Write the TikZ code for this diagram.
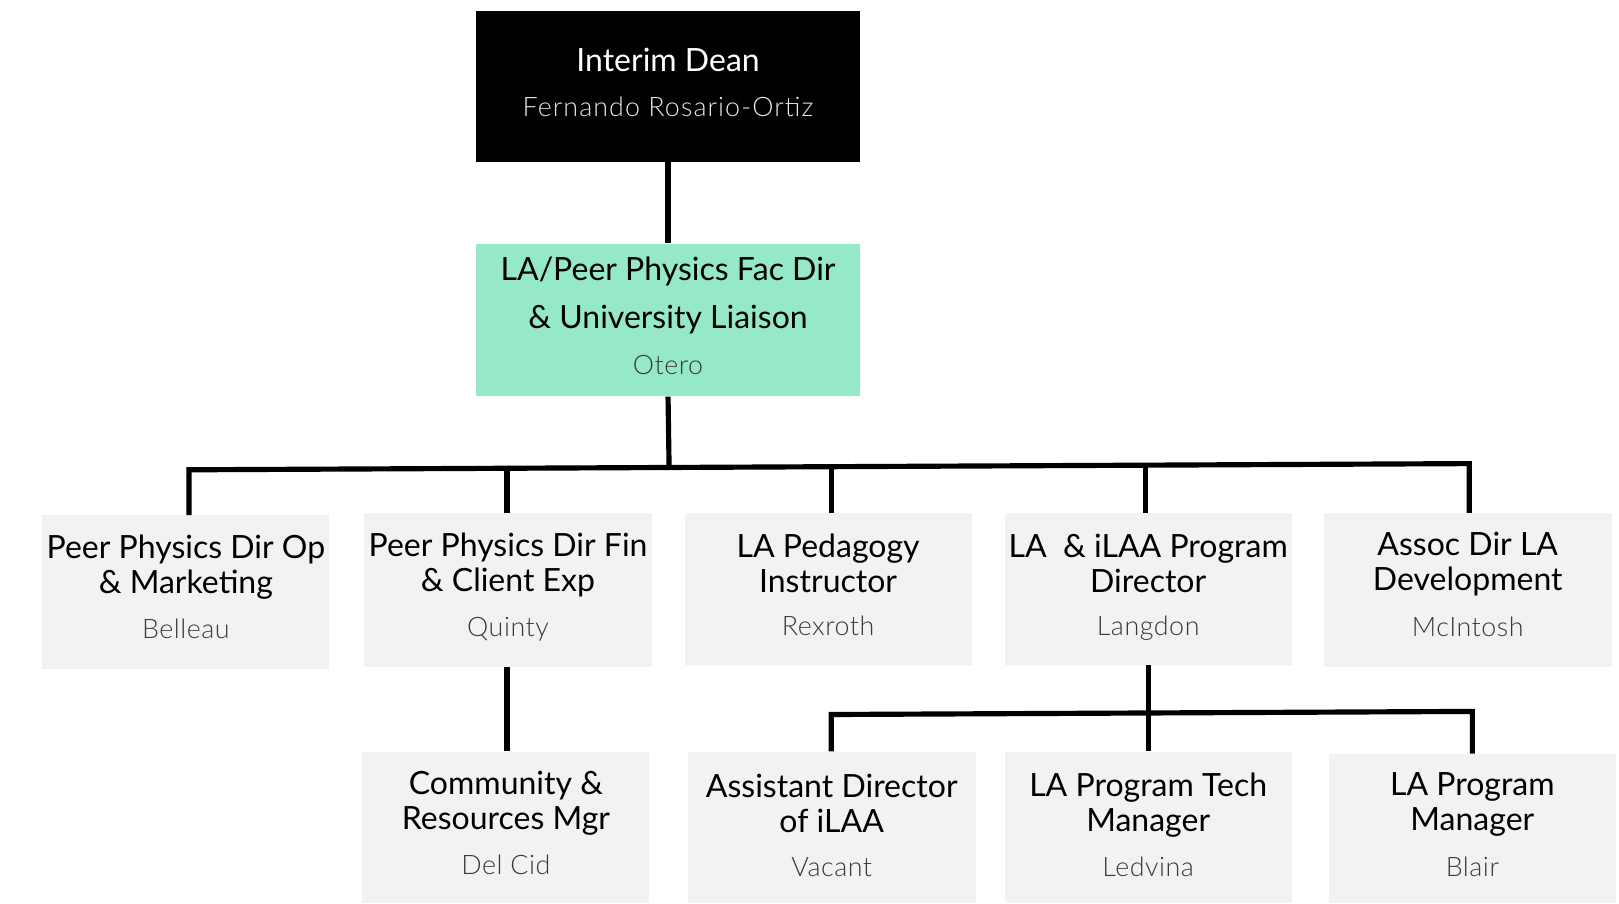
\documentclass[tikz,border=0pt]{standalone}
\usepackage{fontspec}
\setmainfont{Lato}
\newfontfamily\lightfont[LetterSpace=2]{Lato Light}
\newfontfamily\deanfont[LetterSpace=4]{Lato Light}
\definecolor{mint}{HTML}{95E9C9}
\definecolor{boxgray}{HTML}{F2F2F2}
\definecolor{namegray}{HTML}{3A3A3A}
\definecolor{deanname}{HTML}{E6E6E6}
\begin{document}
\begin{tikzpicture}[x=1pt,y=-1pt,
  box/.style={draw=none, inner sep=0, minimum width=278pt, minimum height=147pt, fill=boxgray},
  ttl/.style={font=\fontsize{31}{34}\selectfont, align=center, inner sep=0, text=black},
  nm/.style={font=\lightfont\fontsize{26}{28}\selectfont, text=namegray, inner sep=0, text height=19pt, text depth=0pt},
  conn/.style={line width=5pt, line join=miter}]
\useasboundingbox (0,0) rectangle (1568,875);
% top boxes
\node[box, fill=black, minimum width=372pt, minimum height=146pt] (dean) at (647,84) {};
\node[ttl, text=white] (deanT) at (647,58) {Interim Dean};
\node[nm, text=deanname, font=\deanfont\fontsize{26}{28}\selectfont] (deanN) at (647,103) {Fernando Rosario-Ortiz};
\node[box, fill=mint, minimum width=372pt, minimum height=148pt] (fac) at (647,310) {};
\node[ttl, font=\fontsize{31}{47}\selectfont] (facT) at (647,286) {LA/Peer Physics Fac Dir\\\& University Liaison};
\node[nm] (facN) at (647,353) {Otero};
% row 2
\node[box, minimum height=149pt] (b1) at (180,573.5) {};
\node[ttl] (b1T) at (180,549) {Peer Physics Dir Op\\\& Marketing};
\node[nm] (b1N) at (180,609) {Belleau};
\node[box, minimum height=149pt] (b2) at (492,571.5) {};
\node[ttl] (b2T) at (492,547) {Peer Physics Dir Fin\\\& Client Exp};
\node[nm] (b2N) at (492,607) {Quinty};
\node[box] (b3) at (802,570.5) {};
\node[ttl] (b3T) at (802,546) {LA Pedagogy\\Instructor};
\node[nm] (b3N) at (802,606) {Rexroth};
\node[box] (b4) at (1112,570.5) {};
\node[ttl] (b4T) at (1112,546) {LA\ \ \& iLAA Program\\Director};
\node[nm] (b4N) at (1112,606) {Langdon};
\node[box, minimum width=279pt, minimum height=149pt] (b5) at (1421.5,571.5) {};
\node[ttl] (b5T) at (1421.5,546) {Assoc Dir LA\\Development};
\node[nm] (b5N) at (1421.5,607) {McIntosh};
% row 3
\node[box] (b6) at (490,801.5) {};
\node[ttl] (b6T) at (490,777.5) {Community \&\\Resources Mgr};
\node[nm] (b6N) at (490,837) {Del Cid};
\node[box, minimum width=279pt] (b7) at (805.5,801.5) {};
\node[ttl] (b7T) at (805.5,778.5) {Assistant Director\\of iLAA};
\node[nm] (b7N) at (805.5,839) {Vacant};
\node[box] (b8) at (1112,801.5) {};
\node[ttl] (b8T) at (1112,779.5) {LA Program Tech\\Manager};
\node[nm] (b8N) at (1112,839) {Ledvina};
\node[box, minimum height=145pt] (b9) at (1426,802.5) {};
\node[ttl] (b9T) at (1426,779.5) {LA Program\\Manager};
\node[nm] (b9N) at (1426,839) {Blair};
% junctions
\coordinate (j1) at (183,455);
\coordinate (j2) at (491,453.5);
\coordinate (jc) at (648,452.2);
\coordinate (j3) at (805,452);
\coordinate (j4) at (1109,450.5);
\coordinate (j5) at (1423,449);
\coordinate (k1) at (805,692);
\coordinate (kc) at (1112,690.5);
\coordinate (k3) at (1426,689);
% connectors
\draw[conn] (dean.south) -- (fac.north);
\draw[conn] (fac.south) -- (jc);
\draw[conn] (j1 |- b1.north) -- (j1) -- (j5) -- (j5 |- b5.north);
\draw[conn] (j2) -- (j2 |- b2.north);
\draw[conn] (j3) -- (j3 |- b3.north);
\draw[conn] (j4) -- (j4 |- b4.north);
\draw[conn] (b2.south -| j2) -- (j2 |- b6.north);
\draw[conn] (k1 |- b7.north) -- (k1) -- (k3) -- (k3 |- b9.north);
\draw[conn] (b4.south) -- (b8.north);
\end{tikzpicture}
\end{document}
